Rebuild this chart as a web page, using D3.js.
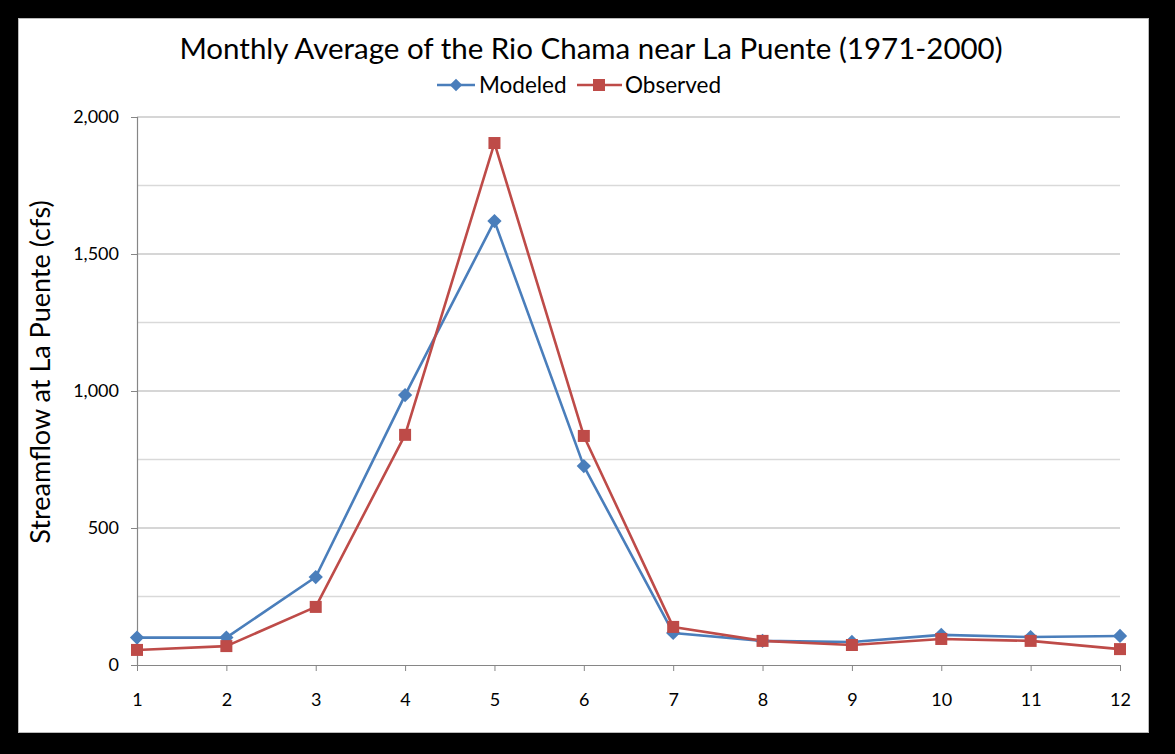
<!DOCTYPE html>
<html>
<head>
<meta charset="utf-8">
<script src="https://cdn.jsdelivr.net/npm/d3@7"></script>
<style>
html,body{margin:0;padding:0;background:#000;}
svg{display:block;}
text{font-family:Lato,"Open Sans",sans-serif;fill:#000;}
</style>
</head>
<body>
<svg id="chart" width="1175" height="754"></svg>
<script>
const months = [1,2,3,4,5,6,7,8,9,10,11,12];
const modeled = [100,100,321,985,1620,726,117,88,84,110,102,106];
const observed = [55,69,212,840,1905,836,139,88,73,95,88,58];
const yTicks = [0,500,1000,1500,2000];
const yMinor = [250,750,1250,1750];
const seriesNames = ["Modeled","Observed"];
const colors = ["#4a7ebb","#be4b48"];

const svg = d3.select("#chart");
svg.append("rect").attr("x",0).attr("y",0).attr("width",1175).attr("height",754).attr("fill","#000");
svg.append("rect").attr("x",18.5).attr("y",18.5).attr("width",1130).attr("height",714)
  .attr("fill","#fff").attr("stroke","#bbb").attr("stroke-width",1);

const L=137, R=1120, T=117, B=665;
const x = d3.scalePoint().domain(months).range([L,R]);
const y = d3.scaleLinear().domain([0,2000]).range([B,T]);

// gridlines
const g = svg.append("g");
g.selectAll(".minor").data(yMinor).join("line")
  .attr("x1",L).attr("x2",R).attr("y1",d=>y(d)).attr("y2",d=>y(d))
  .attr("stroke","#d9d9d9").attr("stroke-width",1.5);
g.selectAll(".major").data(yTicks.filter(d=>d>0)).join("line")
  .attr("x1",L).attr("x2",R).attr("y1",d=>y(d)).attr("y2",d=>y(d))
  .attr("stroke","#c8c8c8").attr("stroke-width",1.5);

// y axis
const yAxis = d3.axisLeft(y).tickValues(yTicks).tickSize(6).tickPadding(12)
  .tickFormat(d3.format(","));
const ya = svg.append("g").attr("transform",`translate(${L},0)`).call(yAxis);
ya.select(".domain").attr("stroke","#868686").attr("stroke-width",1.2);
ya.selectAll(".tick line").attr("stroke","#868686");
ya.selectAll("text").style("font-size","18px").style("font-family","Lato,sans-serif").attr("fill","#000");

// x axis
const xAxis = d3.axisBottom(x).tickSize(6).tickPadding(22).tickSizeOuter(0);
const xa = svg.append("g").attr("transform",`translate(0,${B})`).call(xAxis);
xa.select(".domain").attr("stroke","#868686").attr("stroke-width",1.2);
xa.selectAll(".tick line").attr("stroke","#868686");
xa.selectAll("text").style("font-size","18px").style("font-family","Lato,sans-serif").attr("fill","#000");

// lines
const line = d3.line().x((d,i)=>x(months[i])).y(d=>y(d));
const data = [modeled, observed];
data.forEach((s,k)=>{
  svg.append("path").datum(s).attr("d",line).attr("fill","none")
    .attr("stroke",colors[k]).attr("stroke-width",2.6).attr("stroke-linejoin","round");
});
// markers
svg.append("g").selectAll("path").data(modeled).join("path")
  .attr("transform",(d,i)=>`translate(${x(months[i])},${y(d)})`)
  .attr("d",d3.symbol(d3.symbolDiamond2,130)()).attr("fill",colors[0]);
svg.append("g").selectAll("rect").data(observed).join("rect")
  .attr("x",(d,i)=>x(months[i])-6).attr("y",d=>y(d)-6)
  .attr("width",12).attr("height",12).attr("fill",colors[1]);

// title
svg.append("text").attr("x",591).attr("y",59).attr("text-anchor","middle")
  .style("font-size","29.5px").text("Monthly Average of the Rio Chama near La Puente (1971-2000)");

// legend
const lg = svg.append("g");
lg.append("line").attr("x1",437).attr("x2",475).attr("y1",85).attr("y2",85).attr("stroke",colors[0]).attr("stroke-width",2.6);
lg.append("path").attr("transform","translate(456,85)").attr("d",d3.symbol(d3.symbolDiamond2,100)()).attr("fill",colors[0]);
lg.append("text").attr("x",479).attr("y",93).style("font-size","22.5px").text(seriesNames[0]);
lg.append("line").attr("x1",577).attr("x2",622).attr("y1",85).attr("y2",85).attr("stroke",colors[1]).attr("stroke-width",2.6);
lg.append("rect").attr("x",593).attr("y",79).attr("width",12).attr("height",12).attr("fill",colors[1]);
lg.append("text").attr("x",625).attr("y",93).style("font-size","22.5px").text(seriesNames[1]);

// y label
svg.append("text").attr("transform","translate(50,372) rotate(-90)").attr("text-anchor","middle")
  .style("font-size","27px").text("Streamflow at La Puente (cfs)");
</script>
</body>
</html>
